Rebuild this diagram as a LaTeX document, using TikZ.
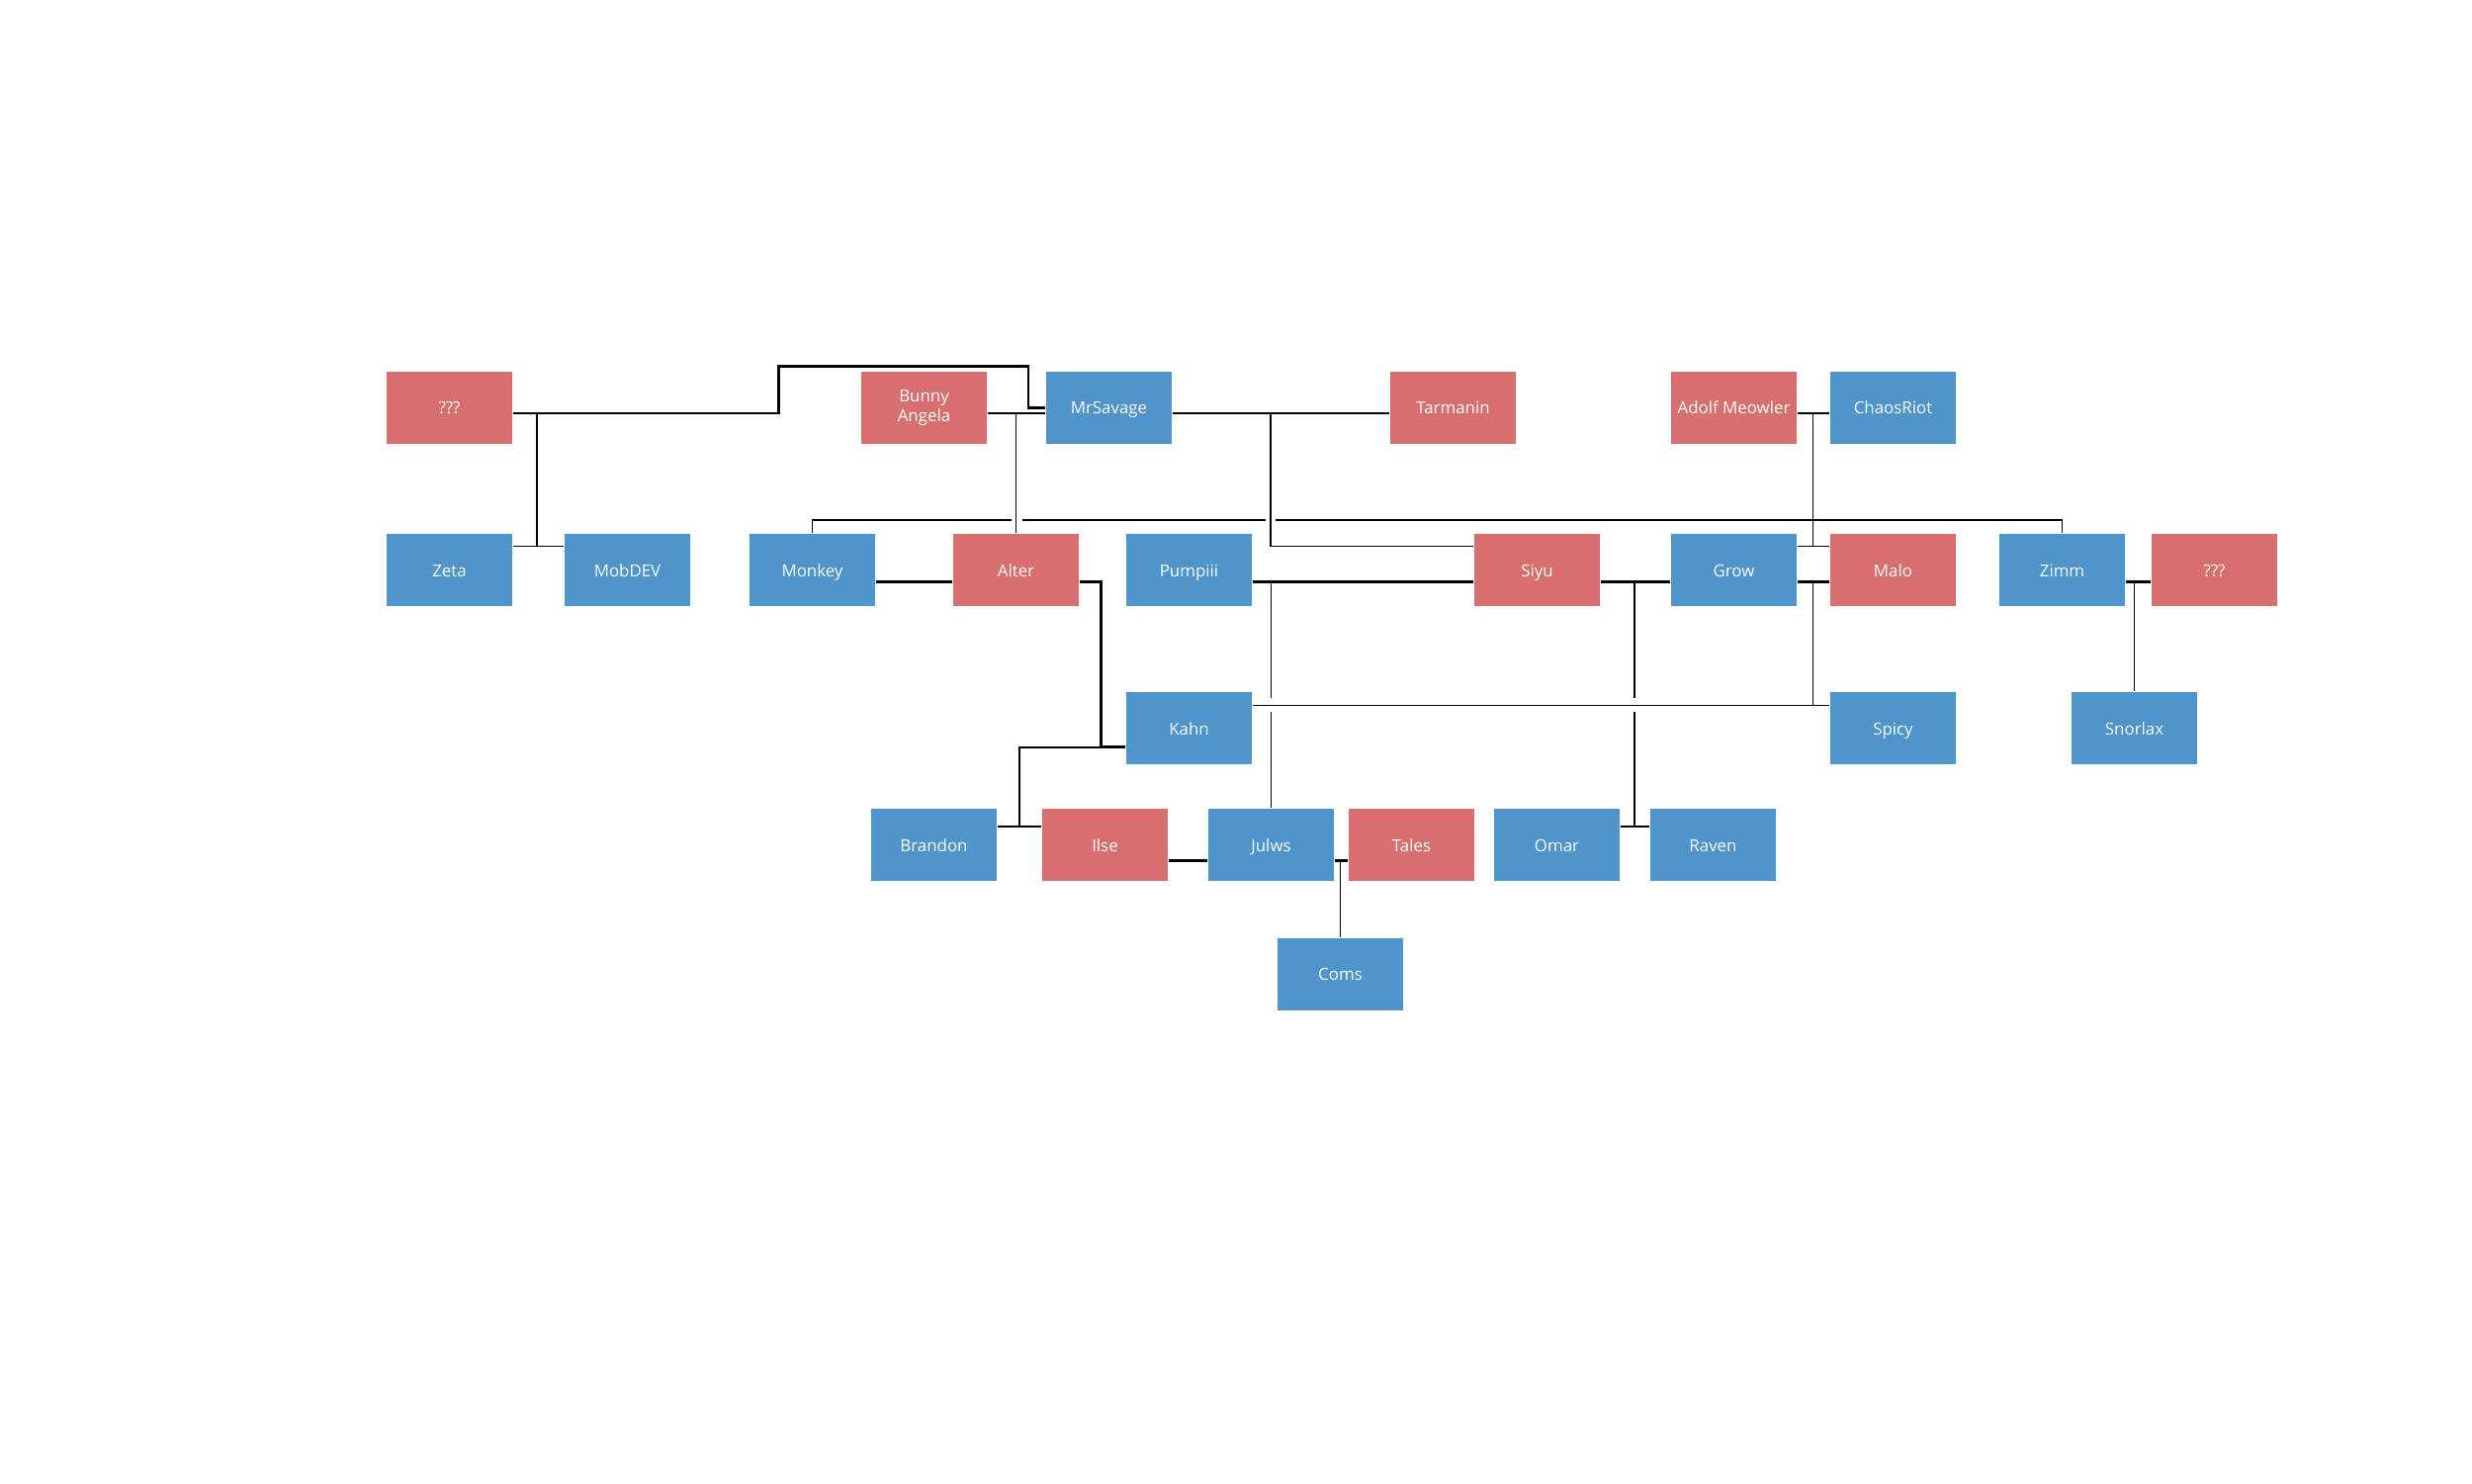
\documentclass[tikz,border=0pt]{standalone}
\usepackage{fontspec}
\setmainfont{Open Sans}
\definecolor{boyblue}{HTML}{4F94CB}
\definecolor{girlred}{HTML}{D86F6F}

\begin{document}
\begin{tikzpicture}[
    box/.style = {minimum width=1.27cm, minimum height=0.73cm, inner sep=0pt,
                  text height=1.3mm, text depth=0mm,
                  text=white, align=center, font=\fontsize{4.8}{5.9}\selectfont},
    man/.style = {box, fill=boyblue},
    woman/.style = {box, fill=girlred},
    couple/.style = {line width=0.8pt},
    kid/.style = {line width=0.3pt}]
        \useasboundingbox (0,0) rectangle (25,15);

        \node[woman] (unknownA) at (4.545,10.875) {???};
        \node[woman, text height=, text depth=] (bunny) at (9.345,10.875) {Bunny\\Angela};
        \node[man] (savage) at (11.215,10.875) {MrSavage};
        \node[woman] (tarmanin) at (14.695,10.875) {Tarmanin};
        \node[woman] (adolf) at (17.535,10.875) {Adolf Meowler};
        \node[man] (chaos) at (19.145,10.875) {ChaosRiot};

        \node[man] (zeta) at (4.545,9.235) {Zeta};
        \node[man] (mobdev) at (6.345,9.235) {MobDEV};
        \node[man] (monkey) at (8.215,9.235) {Monkey};
        \node[woman] (alter) at (10.275,9.235) {Alter};
        \node[man] (pumpiii) at (12.025,9.235) {Pumpiii};
        \node[woman] (siyu) at (15.545,9.235) {Siyu};
        \node[man] (grow) at (17.535,9.235) {Grow};
        \node[woman] (malo) at (19.145,9.235) {Malo};
        \node[man] (zimm) at (20.855,9.235) {Zimm};
        \node[woman] (unknownB) at (22.395,9.235) {???};

        \node[man] (kahn) at (12.025,7.635) {Kahn};
        \node[man] (spicy) at (19.145,7.635) {Spicy};
        \node[man] (snorlax) at (21.585,7.635) {Snorlax};

        \node[man] (brandon) at (9.445,6.455) {Brandon};
        \node[woman] (ilse) at (11.175,6.455) {Ilse};
        \node[man] (julws) at (12.855,6.455) {Julws};
        \node[woman] (tales) at (14.275,6.455) {Tales};
        \node[man] (omar) at (15.745,6.455) {Omar};
        \node[man] (raven) at (17.325,6.455) {Raven};

        \node[man] (coms) at (13.555,5.147) {Coms};

        \draw[couple] ([yshift=-0.55mm]unknownA.east) -- ++(2.69,0)
            |- ([xshift=-1.73mm, yshift=4.18mm]savage.west) |- (savage.west);
        \draw[kid] (5.43,10.82) -- (5.43,9.477);
        \draw[kid] ([yshift=2.42mm]zeta.east) -- ([yshift=2.42mm]mobdev.west);

        \draw[couple] ([yshift=-0.55mm]bunny.east) -- ([yshift=-0.55mm]savage.west);
        \draw[kid] (alter.north) -- (alter.north |- 0,10.82);

        \draw[couple] ([yshift=-0.55mm]savage.east) -- ([yshift=-0.55mm]tarmanin.west);
        \draw[kid] (12.85,10.82) |- ([yshift=2.42mm]siyu.west);

        \draw[couple] ([yshift=-0.55mm]adolf.east) -- ([yshift=-0.55mm]chaos.west);
        \draw[kid] (18.335,10.82) -- (18.335,9.477);
        \draw[kid] ([yshift=2.42mm]grow.east) -- ([yshift=2.42mm]malo.west);
        \draw[kid] (monkey.north) |- (10.23,9.74);
        \draw[kid] (10.34,9.74) -- (12.80,9.74);
        \draw[kid] (12.90,9.74) -| (zimm.north);

        \draw[couple] ([yshift=-1.18mm]monkey.east) -- ([yshift=-1.18mm]alter.west);
        \draw[couple] ([yshift=-1.18mm]alter.east) -| ([xshift=-2.48mm, yshift=-1.88mm]kahn.west)
            -- ([yshift=-1.88mm]kahn.west);
        \draw[kid] (11.142,7.44) -| (10.31,6.64);
        \draw[kid] ([yshift=1.85mm]brandon.east) -- ([yshift=1.85mm]ilse.west);

        \draw[couple] ([yshift=-1.18mm]pumpiii.east) -- ([yshift=-1.18mm]siyu.west);
        \draw[kid] (julws.north |- 0,9.117) -- (julws.north |- 0,7.943);
        \draw[kid] (julws.north |- 0,7.80) -- (julws.north);

        \draw[couple] ([yshift=-1.18mm]siyu.east) -- ([yshift=-1.18mm]grow.west);
        \draw[kid] (16.53,9.117) -- (16.53,7.943);
        \draw[kid] (16.53,7.80) -- (16.53,6.64);
        \draw[kid] ([yshift=1.85mm]omar.east) -- ([yshift=1.85mm]raven.west);

        \draw[couple] ([yshift=-1.18mm]grow.east) -- ([yshift=-1.18mm]malo.west);
        \draw[kid] (18.335,9.117) -- (18.335,7.867);
        \draw[kid] ([yshift=2.32mm]kahn.east) -- ([yshift=2.32mm]spicy.west);

        \draw[couple] ([yshift=-1.18mm]zimm.east) -- ([yshift=-1.18mm]unknownB.west);
        \draw[kid] (snorlax.north) -- (snorlax.north |- 0,9.117);

        \draw[couple] ([yshift=-1.58mm]ilse.east) -- ([yshift=-1.58mm]julws.west);
        \draw[couple] ([yshift=-1.58mm]julws.east) -- ([yshift=-1.58mm]tales.west);
        \draw[kid] (coms.north) -- (coms.north |- 0,6.297);
\end{tikzpicture}
\end{document}
